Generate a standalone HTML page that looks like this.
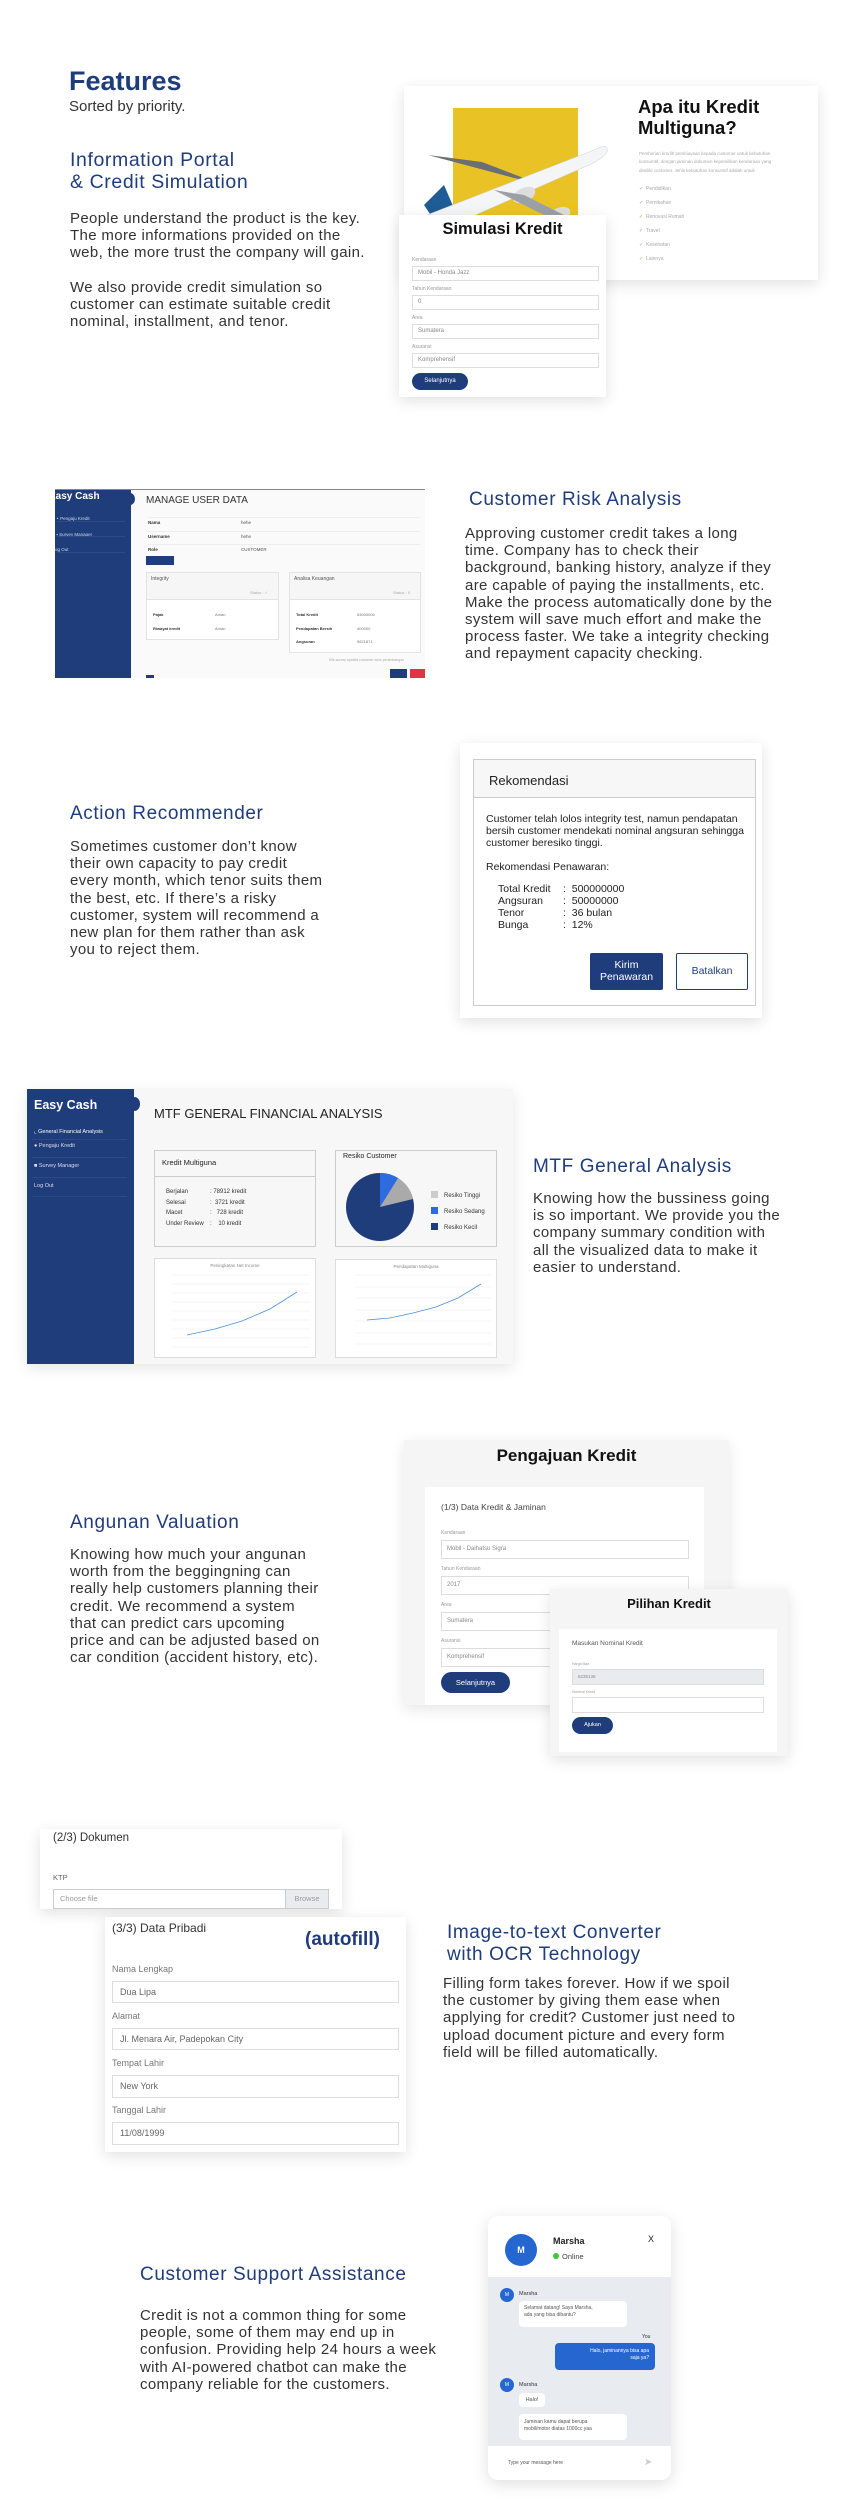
<!DOCTYPE html>
<html><head><meta charset="utf-8">
<style>
*{margin:0;padding:0;box-sizing:border-box}
body{width:842px;height:2520px;background:#fff;position:relative;font-family:"Liberation Sans",sans-serif;color:#333;overflow:hidden}
.a{position:absolute;white-space:nowrap}
.h{color:#1f3c7b;font-size:19px;line-height:22px;letter-spacing:.6px}
.p{font-size:15px;line-height:17.2px;color:#333;letter-spacing:.35px}
.card{position:absolute;background:#fff;box-shadow:0 4px 14px rgba(0,0,0,.12)}
.inp{position:absolute;border:1px solid #ddd;background:#fff;font-size:6px;color:#888;padding-left:5px}
.lbl{position:absolute;font-size:5px;color:#999}
.btn{position:absolute;background:#1f3c7b;color:#fff;border-radius:12px;text-align:center}
.ip2{position:absolute;border:1px solid #ddd;background:#fff;font-size:9px;color:#666;padding-left:7px;line-height:20px}
.l2{position:absolute;font-size:9px;color:#777}
</style></head><body>

<!-- Section 1 -->
<div class="a" style="left:69px;top:66px;font-size:27px;font-weight:bold;color:#1f3c7b">Features</div>
<div class="a" style="left:69px;top:98px;font-size:15px;color:#333">Sorted by priority.</div>
<div class="a h" style="left:70px;top:149px;font-size:19.5px">Information Portal<br>&amp; Credit Simulation</div>
<div class="a p" style="left:70px;top:210px">People understand the product is the key.<br>The more informations provided on the<br>web, the more trust the company will gain.</div>
<div class="a p" style="left:70px;top:279px">We also provide credit simulation so<br>customer can estimate suitable credit<br>nominal, installment, and tenor.</div>

<div class="card" style="left:404px;top:86px;width:414px;height:194px"></div>
<div class="a" style="left:453px;top:108px;width:125px;height:107px;background:#e9c326"></div>
<svg class="a" style="left:404px;top:120px" width="210" height="100">
  <polygon points="20,85 30,100 55,100 40,65" fill="#1f5b94"/>
  <polygon points="24,35 110,58 130,62 78,42" fill="#6a6f75"/>
  <path d="M10,100 L190,30 Q205,22 203,32 Q200,38 185,45 L60,100 Z" fill="#f4f5f6" stroke="#ccc" stroke-width="0.5"/>
  <ellipse cx="120" cy="75" rx="12" ry="7" fill="#ddd" transform="rotate(-25 120 75)"/>
  <ellipse cx="155" cy="95" rx="12" ry="7" fill="#ddd" transform="rotate(-25 155 95)"/>
  <polygon points="90,70 150,100 170,100 120,75" fill="#9aa0a6"/>
</svg>
<div class="a" style="left:638px;top:96px;font-size:18.5px;line-height:21px;font-weight:bold;color:#111">Apa itu Kredit<br>Multiguna?</div>
<div class="a" style="left:639px;top:150px;font-size:4.5px;line-height:8.3px;color:#aaa">Pemberian kredit/ pembiayaan kepada customer untuk kebutuhan<br>konsumtif, dengan jaminan dokumen kepemilikan kendaraan yang<br>dimiliki customer. Jenis kebutuhan konsumtif adalah untuk</div>
<div class="a" style="left:639px;top:183px;font-size:5px;line-height:13.9px;color:#aaa"><span style="color:#7bc043">✓</span> &nbsp;Pendidikan<br><span style="color:#7bc043">✓</span> &nbsp;Pernikahan<br><span style="color:#7bc043">✓</span> &nbsp;Renovasi Rumah<br><span style="color:#7bc043">✓</span> &nbsp;Travel<br><span style="color:#7bc043">✓</span> &nbsp;Kesehatan<br><span style="color:#7bc043">✓</span> &nbsp;Lainnya</div>

<div class="card" style="left:399px;top:215px;width:207px;height:182px"></div>
<div class="a" style="left:399px;width:207px;text-align:center;top:220px;font-size:16.5px;font-weight:bold;color:#111">Simulasi Kredit</div>
<div class="lbl" style="left:412px;top:257px">Kendaraan</div>
<div class="inp" style="left:412px;top:266px;width:187px;height:15px;line-height:13px">Mobil - Honda Jazz</div>
<div class="lbl" style="left:412px;top:286px">Tahun Kendaraan</div>
<div class="inp" style="left:412px;top:295px;width:187px;height:15px;line-height:13px">0</div>
<div class="lbl" style="left:412px;top:315px">Area</div>
<div class="inp" style="left:412px;top:324px;width:187px;height:15px;line-height:13px">Sumatera</div>
<div class="lbl" style="left:412px;top:344px">Asuransi</div>
<div class="inp" style="left:412px;top:353px;width:187px;height:15px;line-height:13px">Komprehensif</div>
<div class="btn" style="left:412px;top:373px;width:56px;height:17px;font-size:6px;line-height:17px">Selanjutnya</div>

<!-- Section 2 -->
<div class="a" style="left:55px;top:489px;width:370px;height:189px;background:#fafafa;border-top:1px solid #888;overflow:hidden">
  <div style="position:absolute;left:0;top:0;width:76px;height:189px;background:#1f3c7b"></div>
  <div style="position:absolute;left:70px;top:3px;width:10px;height:12px;border-radius:50%;background:#1f3c7b"></div>
  <div style="position:absolute;left:-6px;top:1px;font-size:10px;font-weight:bold;color:#fff">Easy Cash</div>
  <div style="position:absolute;left:0;top:21px;font-size:4.5px;line-height:15.5px;color:#cdd">&nbsp;‣ Pengaju Kredit<br>&nbsp;▪ Survey Manager<br>og Out</div>
  <div style="position:absolute;left:2px;top:31px;width:68px;border-top:1px solid #2c4a8a"></div>
  <div style="position:absolute;left:2px;top:46px;width:68px;border-top:1px solid #2c4a8a"></div>
  <div style="position:absolute;left:2px;top:62px;width:68px;border-top:1px solid #2c4a8a"></div>
  <div style="position:absolute;left:91px;top:5px;font-size:10px;color:#333">MANAGE USER DATA</div>
  <div style="position:absolute;left:93px;top:27px;width:272px;border-top:1px solid #eee"></div>
  <div style="position:absolute;left:93px;top:41px;width:272px;border-top:1px solid #eee"></div>
  <div style="position:absolute;left:93px;top:54px;width:272px;border-top:1px solid #eee"></div>
  <div style="position:absolute;left:93px;top:26px;font-size:4.5px;line-height:13.5px;color:#333;font-weight:bold">Nama<br>Username<br>Role</div>
  <div style="position:absolute;left:186px;top:26px;font-size:4.5px;line-height:13.5px;color:#555">hehe<br>hehe<br>CUSTOMER</div>
  <div style="position:absolute;left:91px;top:66px;width:28px;height:9px;background:#1f3c7b"></div>
  <div style="position:absolute;left:91px;top:82px;width:133px;height:68px;border:1px solid #e3e3e3;background:#fff"></div>
  <div style="position:absolute;left:91px;top:82px;width:133px;height:28px;border:1px solid #e3e3e3;background:#f6f6f6"></div>
  <div style="position:absolute;left:234px;top:82px;width:132px;height:81px;border:1px solid #e3e3e3;background:#fff"></div>
  <div style="position:absolute;left:234px;top:82px;width:132px;height:28px;border:1px solid #e3e3e3;background:#f6f6f6"></div>
  <div style="position:absolute;left:96px;top:86px;font-size:5px;color:#555">Integrity</div>
  <div style="position:absolute;left:239px;top:86px;font-size:5px;color:#555">Analisa Keuangan</div>
  <div style="position:absolute;left:195px;top:100px;font-size:4px;color:#aaa">Status : ✓</div>
  <div style="position:absolute;left:338px;top:100px;font-size:4px;color:#aaa">Status : X</div>
  <div style="position:absolute;left:98px;top:118px;font-size:4px;line-height:13.5px;font-weight:bold">Pajak<br>Riwayat kredit</div>
  <div style="position:absolute;left:160px;top:118px;font-size:4px;line-height:13.5px;color:#777">Aman<br>Aman</div>
  <div style="position:absolute;left:241px;top:118px;font-size:4px;line-height:13.5px;font-weight:bold">Total Kredit<br>Pendapatan Bersih<br>Angsuran</div>
  <div style="position:absolute;left:302px;top:118px;font-size:4px;line-height:13.5px;color:#777">63000000<br>400000<br>9821871</div>
  <div style="position:absolute;left:274px;top:168px;font-size:3.5px;color:#aaa">Klik survey apabila customer lolos pertimbangan</div>
  <div style="position:absolute;left:335px;top:179px;width:17px;height:9px;background:#1f3c7b"></div>
  <div style="position:absolute;left:355px;top:179px;width:15px;height:9px;background:#dc3545"></div>
  <div style="position:absolute;left:91px;top:185px;width:8px;height:4px;background:#1f3c7b"></div>
</div>

<div class="a h" style="left:469px;top:489px">Customer Risk Analysis</div>
<div class="a p" style="left:465px;top:525px">Approving customer credit takes a long<br>time. Company has to check their<br>background, banking history, analyze if they<br>are capable of paying the installments, etc.<br>Make the process automatically done by the<br>system will save much effort and make the<br>process faster. We take a integrity checking<br>and repayment capacity checking.</div>

<div class="a h" style="left:70px;top:803px">Action Recommender</div>
<div class="a p" style="left:70px;top:838px">Sometimes customer don’t know<br>their own capacity to pay credit<br>every month, which tenor suits them<br>the best, etc. If there’s a risky<br>customer, system will recommend a<br>new plan for them rather than ask<br>you to reject them.</div>

<div class="card" style="left:460px;top:743px;width:302px;height:275px"></div>
<div class="a" style="left:473px;top:759px;width:283px;height:247px;border:1px solid #ccc;background:#fff"></div>
<div class="a" style="left:473px;top:759px;width:283px;height:39px;border:1px solid #ccc;background:#f7f7f7"></div>
<div class="a" style="left:489px;top:773px;font-size:13px;color:#222">Rekomendasi</div>
<div class="a" style="left:486px;top:813px;font-size:10.5px;line-height:12px;color:#222">Customer telah lolos integrity test, namun pendapatan<br>bersih customer mendekati nominal angsuran sehingga<br>customer beresiko tinggi.</div>
<div class="a" style="left:486px;top:861px;font-size:10.5px;color:#222">Rekomendasi Penawaran:</div>
<div class="a" style="left:498px;top:883px;font-size:10.5px;line-height:12px;color:#222">Total Kredit<br>Angsuran<br>Tenor<br>Bunga</div>
<div class="a" style="left:563px;top:883px;font-size:10.5px;line-height:12px;color:#222">:&nbsp; 500000000<br>:&nbsp; 50000000<br>:&nbsp; 36 bulan<br>:&nbsp; 12%</div>
<div class="a" style="left:590px;top:953px;width:73px;height:37px;background:#1f3c7b;color:#fff;font-size:10.5px;line-height:12px;text-align:center;padding-top:6px;border-radius:2px">Kirim<br>Penawaran</div>
<div class="a" style="left:676px;top:953px;width:72px;height:37px;border:1.5px solid #1f3c7b;color:#1f3c7b;font-size:10.5px;line-height:34px;text-align:center;border-radius:2px">Batalkan</div>

<!-- Section 3 -->
<div class="a" style="left:27px;top:1089px;width:486px;height:275px;background:#f7f7f7;box-shadow:0 4px 14px rgba(0,0,0,.1)"></div>
<div class="a" style="left:27px;top:1089px;width:107px;height:275px;background:#1f3c7b"></div>
<div class="a" style="left:34px;top:1098px;font-size:12.5px;font-weight:bold;color:#fff">Easy Cash</div>
<div class="a" style="left:129px;top:1097px;width:11px;height:14px;border-radius:50%;background:#1f3c7b"></div>
<div class="a" style="left:34px;top:1129px;font-size:5.5px;line-height:7px;color:#fff">⌞ General Financial Analysis</div>
<div class="a" style="left:34px;top:1143px;font-size:5.5px;color:#dde">● Pengaju Kredit</div>
<div class="a" style="left:34px;top:1163px;font-size:5.5px;color:#dde">■ Survey Manager</div>
<div class="a" style="left:34px;top:1183px;font-size:5.5px;color:#dde">Log Out</div>
<div class="a" style="left:32px;top:1139px;width:95px;border-top:1px solid #2c4a8a"></div>
<div class="a" style="left:32px;top:1157px;width:95px;border-top:1px solid #2c4a8a"></div>
<div class="a" style="left:32px;top:1177px;width:95px;border-top:1px solid #2c4a8a"></div>
<div class="a" style="left:32px;top:1196px;width:95px;border-top:1px solid #2c4a8a"></div>
<div class="a" style="left:154px;top:1106px;font-size:13px;color:#222">MTF GENERAL FINANCIAL ANALYSIS</div>
<div class="a" style="left:154px;top:1150px;width:162px;height:97px;border:1px solid #ccc;background:#f7f7f7"></div>
<div class="a" style="left:154px;top:1176px;width:162px;border-top:1px solid #ccc"></div>
<div class="a" style="left:162px;top:1158px;font-size:7.5px;color:#222">Kredit Multiguna</div>
<div class="a" style="left:166px;top:1187px;font-size:6px;line-height:10.5px;color:#333">Berjalan<br>Selesai<br>Macet<br>Under Review</div>
<div class="a" style="left:210px;top:1187px;font-size:6px;line-height:10.5px;color:#333">: 78912 kredit<br>:&nbsp; 3721 kredit<br>:&nbsp;&nbsp; 728 kredit<br>:&nbsp;&nbsp;&nbsp; 10 kredit</div>
<div class="a" style="left:335px;top:1150px;width:162px;height:97px;border:1px solid #ccc;background:#f7f7f7"></div>
<div class="a" style="left:343px;top:1153px;font-size:7px;color:#222">Resiko Customer</div>
<svg class="a" style="left:344px;top:1172px" width="150" height="72">
  <circle cx="36" cy="35" r="34" fill="#1f3c7b"/>
  <path d="M36,35 L36,1 A34,34 0 0 1 54,6 Z" fill="#2e6be0"/>
  <path d="M36,35 L54,6 A34,34 0 0 1 69,27 Z" fill="#aaa"/>
  <rect x="87" y="19" width="7" height="7" fill="#ccc"/>
  <rect x="87" y="35" width="7" height="7" fill="#2e6be0"/>
  <rect x="87" y="51" width="7" height="7" fill="#1f3c7b"/>
  <text x="100" y="25" font-size="6" fill="#333" font-family="Liberation Sans">Resiko Tinggi</text>
  <text x="100" y="41" font-size="6" fill="#333" font-family="Liberation Sans">Resiko Sedang</text>
  <text x="100" y="57" font-size="6" fill="#333" font-family="Liberation Sans">Resiko Kecil</text>
</svg>
<svg class="a" style="left:154px;top:1258px" width="162" height="100">
  <rect x="0.5" y="0.5" width="161" height="99" fill="#fff" stroke="#ddd"/>
  <text x="81" y="9" font-size="4.5" fill="#888" text-anchor="middle" font-family="Liberation Sans">Peningkatan Net Income</text>
  <g stroke="#eee" stroke-width="0.6"><line x1="18" y1="17" x2="156" y2="17"/><line x1="18" y1="26" x2="156" y2="26"/><line x1="18" y1="35" x2="156" y2="35"/><line x1="18" y1="44" x2="156" y2="44"/><line x1="18" y1="53" x2="156" y2="53"/><line x1="18" y1="62" x2="156" y2="62"/><line x1="18" y1="71" x2="156" y2="71"/><line x1="18" y1="80" x2="156" y2="80"/><line x1="18" y1="89" x2="156" y2="89"/></g>
  <polyline points="33,77 61,71 88,63 116,51 143,34" fill="none" stroke="#4a90d9" stroke-width="0.8"/>
</svg>
<svg class="a" style="left:335px;top:1259px" width="162" height="99">
  <rect x="0.5" y="0.5" width="161" height="98" fill="#fff" stroke="#ddd"/>
  <text x="81" y="9" font-size="4.5" fill="#888" text-anchor="middle" font-family="Liberation Sans">Pendapatan Multiguna</text>
  <g stroke="#eee" stroke-width="0.6"><line x1="20" y1="16" x2="156" y2="16"/><line x1="20" y1="28" x2="156" y2="28"/><line x1="20" y1="39" x2="156" y2="39"/><line x1="20" y1="51" x2="156" y2="51"/><line x1="20" y1="62" x2="156" y2="62"/><line x1="20" y1="74" x2="156" y2="74"/><line x1="20" y1="85" x2="156" y2="85"/></g>
  <polyline points="32,61 55,59 78,54 101,48 123,39 146,25" fill="none" stroke="#4a90d9" stroke-width="0.8"/>
</svg>
<div class="a h" style="left:533px;top:1156px">MTF General Analysis</div>
<div class="a p" style="left:533px;top:1190px">Knowing how the bussiness going<br>is so important. We provide you the<br>company summary condition with<br>all the visualized data to make it<br>easier to understand.</div>

<div class="a h" style="left:70px;top:1512px">Angunan Valuation</div>
<div class="a p" style="left:70px;top:1546px">Knowing how much your angunan<br>worth from the beggingning can<br>really help customers planning their<br>credit. We recommend a system<br>that can predict cars upcoming<br>price and can be adjusted based on<br>car condition (accident history, etc).</div>

<div class="a" style="left:404px;top:1440px;width:325px;height:265px;background:#f5f5f5;box-shadow:0 4px 14px rgba(0,0,0,.1)"></div>
<div class="a" style="left:404px;width:325px;text-align:center;top:1446px;font-size:17px;font-weight:bold;color:#111">Pengajuan Kredit</div>
<div class="a" style="left:425px;top:1487px;width:279px;height:218px;background:#fff"></div>
<div class="a" style="left:441px;top:1502px;font-size:8.5px;color:#444">(1/3) Data Kredit &amp; Jaminan</div>
<div class="lbl" style="left:441px;top:1530px">Kendaraan</div>
<div class="inp" style="left:441px;top:1540px;width:248px;height:19px;line-height:17px">Mobil - Daihatsu Sigra</div>
<div class="lbl" style="left:441px;top:1566px">Tahun Kendaraan</div>
<div class="inp" style="left:441px;top:1576px;width:248px;height:19px;line-height:17px">2017</div>
<div class="lbl" style="left:441px;top:1602px">Area</div>
<div class="inp" style="left:441px;top:1612px;width:248px;height:19px;line-height:17px">Sumatera</div>
<div class="lbl" style="left:441px;top:1638px">Asuransi</div>
<div class="inp" style="left:441px;top:1648px;width:248px;height:19px;line-height:17px">Komprehensif</div>
<div class="btn" style="left:441px;top:1672px;width:69px;height:21px;font-size:7.5px;line-height:21px">Selanjutnya</div>

<div class="a" style="left:550px;top:1589px;width:238px;height:167px;background:#f5f5f5;box-shadow:0 4px 14px rgba(0,0,0,.12)"></div>
<div class="a" style="left:550px;width:238px;text-align:center;top:1596px;font-size:13px;font-weight:bold;color:#111">Pilihan Kredit</div>
<div class="a" style="left:559px;top:1629px;width:218px;height:123px;background:#fff"></div>
<div class="a" style="left:572px;top:1640px;font-size:6.5px;color:#555">Masukan Nominal Kredit</div>
<div class="lbl" style="left:572px;top:1662px;font-size:3.5px">Harga Max</div>
<div class="inp" style="left:572px;top:1669px;width:192px;height:16px;background:#e9ecef;line-height:14px;font-size:4.5px">6235136</div>
<div class="lbl" style="left:572px;top:1690px;font-size:3.5px">Nominal Kredit</div>
<div class="inp" style="left:572px;top:1697px;width:192px;height:16px"></div>
<div class="btn" style="left:572px;top:1717px;width:41px;height:17px;font-size:5.5px;line-height:17px">Ajukan</div>

<!-- Section 4 -->
<div class="card" style="left:40px;top:1829px;width:302px;height:80px"></div>
<div class="a" style="left:53px;top:1832px;font-size:11.5px;color:#333">(2/3) Dokumen</div>
<div class="a" style="left:53px;top:1873px;font-size:7.5px;color:#666">KTP</div>
<div class="a" style="left:53px;top:1889px;width:276px;height:20px;border:1px solid #ccc;background:#fff"></div>
<div class="a" style="left:285px;top:1889px;width:44px;height:20px;border:1px solid #ccc;background:#e9ecef;font-size:7.5px;color:#999;line-height:18px;text-align:center">Browse</div>
<div class="a" style="left:60px;top:1894px;font-size:7.5px;color:#999">Choose file</div>

<div class="card" style="left:105px;top:1917px;width:301px;height:235px"></div>
<div class="a" style="left:112px;top:1921px;font-size:12px;color:#333">(3/3) Data Pribadi</div>
<div class="a" style="left:305px;top:1929px;font-size:19px;font-weight:bold;color:#1f3c7b">(autofill)</div>
<div class="l2" style="left:112px;top:1964px">Nama Lengkap</div>
<div class="ip2" style="left:112px;top:1981px;width:287px;height:22px">Dua Lipa</div>
<div class="l2" style="left:112px;top:2011px">Alamat</div>
<div class="ip2" style="left:112px;top:2028px;width:287px;height:22px">Jl. Menara Air, Padepokan City</div>
<div class="l2" style="left:112px;top:2058px">Tempat Lahir</div>
<div class="ip2" style="left:112px;top:2075px;width:287px;height:23px">New York</div>
<div class="l2" style="left:112px;top:2105px">Tanggal Lahir</div>
<div class="ip2" style="left:112px;top:2122px;width:287px;height:23px">11/08/1999</div>

<div class="a h" style="left:447px;top:1922px;line-height:22px">Image-to-text Converter<br>with OCR Technology</div>
<div class="a p" style="left:443px;top:1975px">Filling form takes forever. How if we spoil<br>the customer by giving them ease when<br>applying for credit? Customer just need to<br>upload document picture and every form<br>field will be filled automatically.</div>

<div class="a h" style="left:140px;top:2264px">Customer Support Assistance</div>
<div class="a p" style="left:140px;top:2307px">Credit is not a common thing for some<br>people, some of them may end up in<br>confusion. Providing help 24 hours a week<br>with AI-powered chatbot can make the<br>company reliable for the customers.</div>

<div class="a" style="left:488px;top:2216px;width:183px;height:264px;border-radius:10px;background:#fff;box-shadow:0 4px 16px rgba(0,0,0,.13);overflow:hidden">
  <div style="position:absolute;left:0;top:61px;width:183px;height:169px;background:#e8ebf0"></div>
  <div style="position:absolute;left:17px;top:18px;width:32px;height:32px;border-radius:50%;background:#2566d1;color:#fff;font-size:9px;font-weight:bold;text-align:center;line-height:32px">M</div>
  <div style="position:absolute;left:65px;top:20px;font-size:9px;font-weight:bold;color:#222">Marsha</div>
  <div style="position:absolute;left:65px;top:36px;font-size:7.5px;color:#444"><span style="display:inline-block;width:6px;height:6px;border-radius:50%;background:#3ac93a;margin-right:3px"></span>Online</div>
  <div style="position:absolute;left:160px;top:18px;font-size:9px;color:#222">X</div>
  <div style="position:absolute;left:12px;top:72px;width:14px;height:14px;border-radius:50%;background:#2566d1;color:#fff;font-size:5px;text-align:center;line-height:14px">M</div>
  <div style="position:absolute;left:31px;top:75px;font-size:5.5px;color:#333">Marsha</div>
  <div style="position:absolute;left:31px;top:85px;width:108px;height:26px;background:#fff;border-radius:4px;font-size:5px;line-height:7px;color:#555;padding:4px 5px">Selamat datang! Saya Marsha,<br>ada yang bisa dibantu?</div>
  <div style="position:absolute;left:154px;top:118px;font-size:5px;color:#333">You</div>
  <div style="position:absolute;left:67px;top:127px;width:100px;height:27px;background:#2566d1;border-radius:4px;font-size:5px;line-height:7px;color:#fff;padding:5px 6px;text-align:right">Halo, jaminannya bisa apa<br>saja ya?</div>
  <div style="position:absolute;left:12px;top:162px;width:14px;height:14px;border-radius:50%;background:#2566d1;color:#fff;font-size:5px;text-align:center;line-height:14px">M</div>
  <div style="position:absolute;left:31px;top:166px;font-size:5.5px;color:#333">Marsha</div>
  <div style="position:absolute;left:31px;top:177px;width:26px;height:14px;background:#fff;border-radius:4px;font-size:5.5px;line-height:14px;color:#555;text-align:center">Halo!</div>
  <div style="position:absolute;left:31px;top:198px;width:108px;height:26px;background:#fff;border-radius:4px;font-size:5px;line-height:7px;color:#555;padding:5px 5px">Jaminan kamu dapat berupa<br>mobil/motor diatas 1000cc yaa</div>
  <div style="position:absolute;left:20px;top:244px;font-size:5px;color:#555">Type your message here</div>
  <div style="position:absolute;left:156px;top:241px;font-size:10px;color:#ccc">➤</div>
</div>

</body></html>
